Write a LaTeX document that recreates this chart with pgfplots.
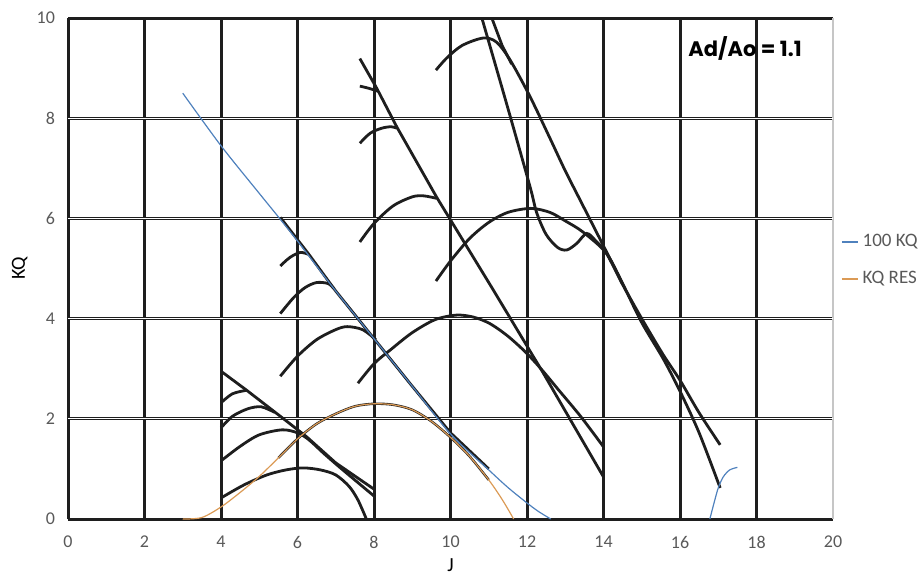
\documentclass[border=0pt]{standalone}
\usepackage{fontspec}
\setmainfont{Carlito}
\newfontfamily\geofont{Poppins}
\usepackage{pgfplots}
\pgfplotsset{compat=1.18}

\definecolor{kqblue}{RGB}{79,129,189}
\definecolor{kqorange}{RGB}{219,154,85}
\definecolor{labgray}{RGB}{89,89,89}
\definecolor{scan}{RGB}{30,30,30}

\pgfplotsset{
  kqcurve/.style={scan, line width=1.4pt, forget plot},
}

\begin{document}
\begin{tikzpicture}
\useasboundingbox (-34pt,-30.5pt) rectangle (426pt,259.5pt);
\begin{axis}[
  scale only axis, width=382.5pt, height=250.5pt,
  xmin=0, xmax=20, ymin=0, ymax=10,
  xtick={0,2,...,18}, ytick={0,2,...,10},
  extra x ticks={20},
  extra x tick style={grid=major, major grid style={gray!45, line width=0.6pt}},
  extra y ticks={2,4,6,8}, extra y tick labels={},
  extra y tick style={grid=major, major grid style={white, line width=0.45pt}},
  grid=major, major grid style={scan, line width=1.5pt},
  axis line style={draw=none}, major tick length=0pt,
  tick label style={font=\fontsize{9}{11}\selectfont, text=labgray},
  /pgf/number format/assume math mode=true,
  xticklabel style={yshift=-5pt},
  yticklabel style={xshift=-3pt},
  xlabel={J}, ylabel={KQ},
  label style={font=\fontsize{9}{11}\selectfont, text=labgray},
  every axis x label/.style={at={(axis description cs:0.5,-0.092)}, anchor=center},
  every axis y label/.style={at={(axis description cs:-0.063,0.5)}, rotate=90, anchor=center},
  legend style={at={(1.010,0.516)}, anchor=west, draw=none, fill=none,
    font=\fontsize{9.5}{11}\selectfont, text=labgray, row sep=7pt, inner sep=0pt,
    cells={anchor=west}},
  legend image code/.code={\draw[#1, line width=0.8pt] (0pt,0pt) -- (8pt,0pt);},
]

% scanned chart curves, group starting at J = 4
\addplot[kqcurve] coordinates {(4.0,2.95) (4.67,2.57) (5.67,1.98) (6.24,1.64) (7.0,1.12) (8.03,0.58)};
\addplot[kqcurve, smooth] coordinates {(4.0,2.32) (4.3,2.5) (4.67,2.57)};
\addplot[kqcurve, smooth] coordinates {(4.0,1.82) (4.3,2.05) (4.7,2.2) (5.05,2.24) (5.4,2.13)};
\addplot[kqcurve, smooth] coordinates {(4.0,1.16) (4.5,1.45) (5.0,1.68) (5.6,1.78) (6.0,1.72) (6.3,1.58) (6.7,1.3) (7.2,0.97) (8.03,0.44)};
\addplot[kqcurve, smooth] coordinates {(4.0,0.42) (4.6,0.68) (5.2,0.88) (5.7,0.98) (6.15,1.02) (6.6,0.98) (7.0,0.88) (7.35,0.65) (7.58,0.38) (7.8,0.0)};

% group starting at J = 5.5
\addplot[kqcurve] coordinates {(5.55,6.02) (6.3,5.28) (7.0,4.55) (8.0,3.6) (9.0,2.65) (10.0,1.72) (11.0,1.0)};
\addplot[kqcurve, smooth] coordinates {(5.55,5.05) (5.8,5.22) (6.07,5.32) (6.3,5.28)};
\addplot[kqcurve, smooth] coordinates {(5.55,4.1) (5.9,4.42) (6.2,4.62) (6.5,4.72) (6.8,4.7) (6.95,4.6)};
\addplot[kqcurve, smooth] coordinates {(5.55,2.85) (6.0,3.25) (6.5,3.58) (7.0,3.78) (7.3,3.84) (7.7,3.78) (8.05,3.58)};
\addplot[kqcurve, line width=1.2pt, smooth] coordinates {(5.5,1.22) (6,1.6) (6.5,1.9) (7,2.1) (7.5,2.25) (8,2.3) (8.5,2.28) (9,2.18) (9.5,1.95) (10,1.63) (10.5,1.25) (11.0,0.78)};

% group starting at J = 7.6
\addplot[kqcurve] coordinates {(7.63,9.19) (8.07,8.6) (8.6,7.82) (9.64,6.42) (11.08,4.62) (12.42,2.92) (14.0,0.84)};
\addplot[kqcurve, smooth] coordinates {(7.63,8.64) (7.85,8.6) (8.1,8.54)};
\addplot[kqcurve, smooth] coordinates {(7.63,7.5) (7.9,7.7) (8.2,7.8) (8.45,7.83) (8.6,7.8)};
\addplot[kqcurve, smooth] coordinates {(7.63,5.53) (8.0,5.9) (8.5,6.25) (9.0,6.43) (9.3,6.45) (9.64,6.4)};
\addplot[kqcurve, smooth] coordinates {(7.58,2.71) (8.0,3.1) (8.42,3.37) (9.0,3.72) (9.6,3.98) (10.16,4.07) (10.6,4.03) (11.03,3.9) (11.5,3.65) (11.99,3.31) (12.42,2.95) (12.8,2.6) (13.4,2.05) (14.0,1.44)};

% group starting at J = 9.6
\addplot[kqcurve, smooth] coordinates {(9.62,8.96) (9.9,9.2) (10.3,9.45) (10.85,9.6) (11.2,9.52) (11.56,9.16) (12.08,8.43) (12.6,7.6) (13.0,6.95) (13.4,6.35) (14.0,5.45) (14.5,4.7) (15.0,3.92) (15.56,3.2) (16.0,2.55) (16.5,1.72) (17.05,0.62)};
\addplot[kqcurve, smooth] coordinates {(10.82,10.0) (11.5,8.2) (12.08,6.63) (12.25,6.12) (12.5,5.68) (12.8,5.42) (13.04,5.37) (13.3,5.5) (13.56,5.7) (13.8,5.55) (14.08,5.3) (14.5,4.68) (15.0,4.0) (15.56,3.28) (16.0,2.77) (16.5,2.12) (17.05,1.48)};
\addplot[kqcurve] coordinates {(11.08,10.0) (11.35,9.45) (11.6,9.08)};
\addplot[kqcurve, smooth] coordinates {(9.62,4.75) (10.0,5.15) (10.5,5.6) (11.0,5.92) (11.5,6.12) (12.1,6.2) (12.6,6.12) (13.0,5.95) (13.46,5.73) (14.08,5.3) (14.5,4.68)};

% Excel series
\addplot[kqblue, line width=0.6pt, smooth] coordinates {
  (3.0,8.5) (4,7.45) (5,6.5) (5.5,6.03) (6,5.55) (7,4.55) (8,3.6) (9,2.65) (10,1.7)
  (11,0.98) (11.5,0.63) (12,0.32) (12.3,0.15) (12.62,0)};
\addlegendentry{100 KQ}
\addplot[kqblue, line width=0.6pt, smooth, forget plot] coordinates {
  (16.78,0.0) (16.9,0.35) (17.0,0.62) (17.13,0.84) (17.3,0.98) (17.5,1.03)};
\addplot[kqorange, line width=0.6pt, smooth] coordinates {
  (3.0,0) (3.5,0.03) (4,0.24) (4.5,0.53) (5,0.85) (5.5,1.22) (6,1.6) (6.5,1.9)
  (7,2.1) (7.5,2.25) (8,2.3) (8.5,2.28) (9,2.18) (9.5,1.95) (10,1.63)
  (10.5,1.25) (11,0.78) (11.3,0.45) (11.5,0.2) (11.65,0)};
\addlegendentry{KQ RES}

\node[font={\geofont\fontsize{10.5}{12}\selectfont\bfseries}, text=black] at (axis cs:17.7,9.4) {Ad/Ao = 1.1};
\end{axis}
\end{tikzpicture}
\end{document}
